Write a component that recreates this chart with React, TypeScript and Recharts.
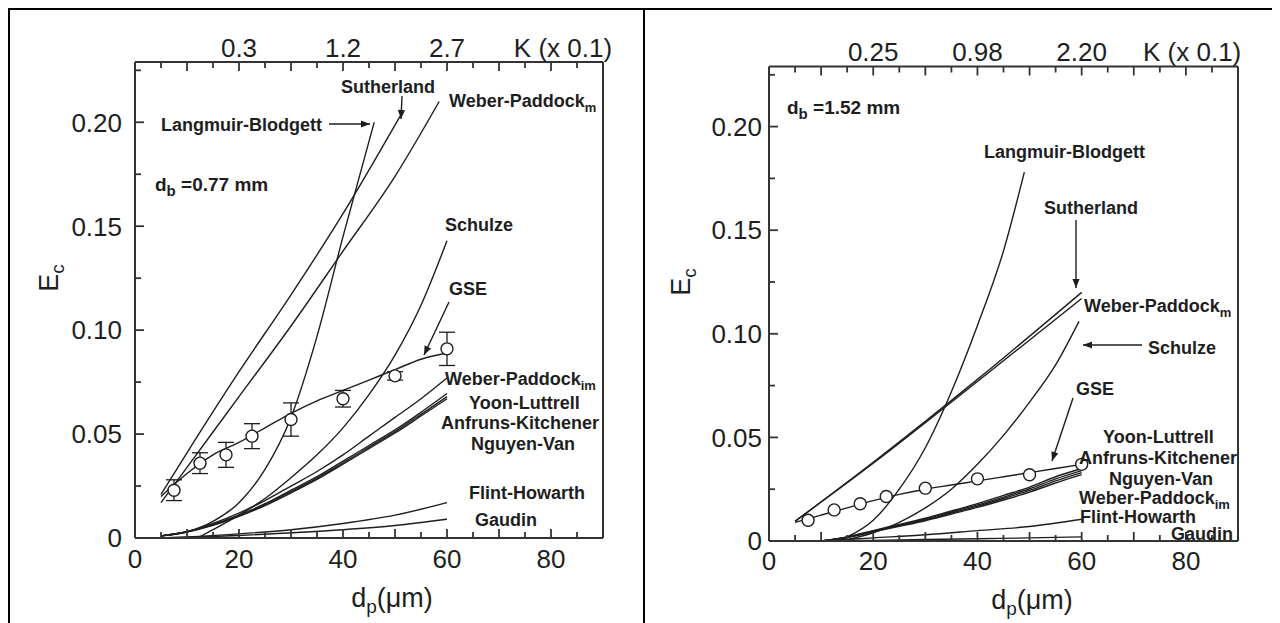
import React from "react";
import { ComposedChart, Line, Scatter, ErrorBar, XAxis, YAxis } from "recharts";

type Pt = [number, number];

// ---- d_b = 0.77 mm (left panel) ----
const langmuir077: Pt[] = [[5, 0.001], [10, 0.003], [15, 0.008], [20, 0.017], [25, 0.033], [30, 0.058], [35, 0.097], [40, 0.145], [46, 0.2]];
const sutherland077: Pt[] = [[5, 0.021], [10, 0.041], [20, 0.08], [30, 0.117], [40, 0.156], [51, 0.203]];
const weberPaddockM077: Pt[] = [[5, 0.017], [10, 0.034], [20, 0.068], [30, 0.102], [40, 0.138], [50, 0.174], [58.5, 0.21]];
const schulze077: Pt[] = [[12, 0], [15, 0.004], [20, 0.011], [25, 0.019], [30, 0.029], [35, 0.04], [40, 0.053], [45, 0.069], [50, 0.088], [55, 0.112], [60, 0.143]];
const gseLine077: Pt[] = [[5, 0.02], [10, 0.031], [15, 0.04], [20, 0.046], [25, 0.053], [30, 0.06], [35, 0.066], [40, 0.071], [45, 0.076], [50, 0.081], [55, 0.086], [60, 0.089]];
const weberPaddockIm077: Pt[] = [[5, 0.001], [10, 0.003], [15, 0.007], [20, 0.012], [25, 0.018], [30, 0.025], [35, 0.032], [40, 0.04], [45, 0.049], [50, 0.058], [55, 0.067], [60, 0.077]];
const yoonLuttrell077: Pt[] = [[5, 0.001], [10, 0.003], [15, 0.0065], [20, 0.011], [25, 0.0165], [30, 0.023], [35, 0.0295], [40, 0.037], [45, 0.0445], [50, 0.052], [55, 0.0605], [60, 0.0695]];
const anfruns077: Pt[] = [[5, 0.001], [10, 0.003], [15, 0.0063], [20, 0.0107], [25, 0.016], [30, 0.0223], [35, 0.0288], [40, 0.0362], [45, 0.0437], [50, 0.0512], [55, 0.0595], [60, 0.068]];
const nguyenVan077: Pt[] = [[5, 0.001], [10, 0.0029], [15, 0.0061], [20, 0.0104], [25, 0.0156], [30, 0.0217], [35, 0.0282], [40, 0.0355], [45, 0.043], [50, 0.0505], [55, 0.0587], [60, 0.067]];
const flintHowarth077: Pt[] = [[5, 0], [10, 0.0005], [20, 0.002], [30, 0.004], [40, 0.007], [50, 0.011], [60, 0.017]];
const gaudin077: Pt[] = [[5, 0], [10, 0.0003], [20, 0.0012], [30, 0.0025], [40, 0.004], [50, 0.006], [60, 0.009]];
const gseDp077 = [7.5, 12.5, 17.5, 22.5, 30, 40, 50, 60];
const gseEc077 = [0.023, 0.036, 0.04, 0.049, 0.057, 0.067, 0.078, 0.091];
const gseErr077 = [0.005, 0.005, 0.006, 0.006, 0.008, 0.004, 0.002, 0.008];
const kPos077 = [20, 40, 60, 82.3];
const kLabels077 = ["0.3", "1.2", "2.7", "K (x 0.1)"];

// ---- d_b = 1.52 mm (right panel) ----
const langmuir152: Pt[] = [[13, 0], [15, 0.002], [20, 0.01], [25, 0.025], [30, 0.045], [35, 0.072], [40, 0.104], [45, 0.14], [49, 0.178]];
const sutherland152: Pt[] = [[5, 0.0095], [20, 0.038], [40, 0.078], [60, 0.12]];
const weberPaddockM152: Pt[] = [[5, 0.0095], [20, 0.0375], [40, 0.077], [60, 0.117]];
const schulze152: Pt[] = [[14, 0], [20, 0.004], [25, 0.009], [30, 0.016], [35, 0.025], [40, 0.037], [45, 0.051], [50, 0.067], [55, 0.085], [59.5, 0.106]];
const gseLine152: Pt[] = [[5, 0.009], [10, 0.0125], [15, 0.016], [20, 0.0195], [25, 0.0225], [30, 0.025], [35, 0.027], [40, 0.029], [45, 0.031], [50, 0.033], [55, 0.035], [60, 0.037]];
const yoonLuttrell152: Pt[] = [[10, 0], [15, 0.002], [20, 0.005], [25, 0.008], [30, 0.011], [35, 0.0145], [40, 0.018], [45, 0.022], [50, 0.026], [55, 0.031], [60, 0.035]];
const anfruns152: Pt[] = [[10, 0], [15, 0.0019], [20, 0.0048], [25, 0.0077], [30, 0.0106], [35, 0.014], [40, 0.0174], [45, 0.0212], [50, 0.0252], [55, 0.03], [60, 0.034]];
const nguyenVan152: Pt[] = [[10, 0], [15, 0.0018], [20, 0.0046], [25, 0.0074], [30, 0.0102], [35, 0.0135], [40, 0.0168], [45, 0.0205], [50, 0.0244], [55, 0.029], [60, 0.033]];
const weberPaddockIm152: Pt[] = [[10, 0], [15, 0.0017], [20, 0.0044], [25, 0.0071], [30, 0.0098], [35, 0.013], [40, 0.0162], [45, 0.0198], [50, 0.0236], [55, 0.028], [60, 0.032]];
const flintHowarth152: Pt[] = [[10, 0], [20, 0.0015], [30, 0.003], [40, 0.005], [50, 0.007], [60, 0.0105]];
const gaudin152: Pt[] = [[10, 0], [20, 0.0003], [30, 0.0007], [40, 0.0011], [50, 0.0015], [60, 0.002]];
const gseDp152 = [7.5, 12.5, 17.5, 22.5, 30, 40, 50, 60];
const gseEc152 = [0.01, 0.015, 0.018, 0.0215, 0.0255, 0.03, 0.032, 0.037];
const kPos152 = [20, 40, 60, 81.2];
const kLabels152 = ["0.25", "0.98", "2.20", "K (x 0.1)"];

// ---- shared axis ticks ----
const dpLabels = [0, 20, 40, 60, 80];
const dpTicks = [5, 10, 15, 20, 25, 30, 35, 40, 45, 50, 55, 60, 65, 70, 75, 80, 85];
const ecLabels = [0, 0.05, 0.1, 0.15, 0.2];
const ecTicks = [0.025, 0.05, 0.075, 0.1, 0.125, 0.15, 0.175, 0.2, 0.225];
const DP_MAX = 90;
const EC_MAX = 0.229;

const INK = "#1e1e1e";
const AXIS = "#333333";
const FONT = "'Liberation Sans', Arial, Helvetica, sans-serif";

type Note = { text: string; sub?: string; x: number; y: number };
type Arrow = [number, number, number, number];

const toRows = (pts: Pt[]) => pts.map(([dp, ec]) => ({ dp, ec }));
const near = (a: number, list: number[]) => list.findIndex((v) => Math.abs(v - a) < 1e-6);

interface PanelProps {
  id: string;
  curves: Pt[][];
  dp: number[];
  ec: number[];
  err?: number[];
  kPos: number[];
  kLabels: string[];
  margin: { top: number; right: number; bottom: number; left: number };
  xLabelDy: number;
  yLabelGap: number;
  kGap: number;
  db: string;
  dbPos: [number, number];
  notes: Note[];
  arrows: Arrow[];
  ecPos: [number, number];
  dpPos: [number, number];
}

function Panel(p: PanelProps) {
  const W = 633;
  const H = 613;
  const Y_W = 60;
  const X_H = 40;
  const T_H = 30;
  const pts = p.dp.map((dp, i) => ({ dp, ec: p.ec[i], err: p.err ? p.err[i] : 0 }));
  const last = p.curves.length - 1;

  // plot box, used for the inward tick marks
  const L = p.margin.left + Y_W;
  const R = W - p.margin.right - 1;
  const T = p.margin.top + T_H;
  const B = H - p.margin.bottom - X_H;
  const px = (v: number) => L + (v / DP_MAX) * (R - L);
  const py = (v: number) => B - (v / EC_MAX) * (B - T);

  const bottomLabel = (t: any) => {
    const v = t.payload.value;
    return (
      <text x={t.x} y={t.y + p.xLabelDy} textAnchor="middle" fontSize={26} fill={INK} fontFamily={FONT}>
        {v}
      </text>
    );
  };

  const leftLabel = (t: any) => {
    const v = t.payload.value;
    return (
      <text x={t.x - p.yLabelGap} y={t.y + 9.3} textAnchor="end" fontSize={26} fill={INK} fontFamily={FONT}>
        {v === 0 ? "0" : v.toFixed(2)}
      </text>
    );
  };

  const kLabel = (t: any) => {
    const k = near(t.payload.value, p.kPos);
    return (
      <text x={t.x} y={t.y - p.kGap} textAnchor="middle" fontSize={26} fill={INK} fontFamily={FONT}>
        {k >= 0 ? p.kLabels[k] : ""}
      </text>
    );
  };

  return (
    <div style={{ position: "relative", width: W, height: H }}>
      <ComposedChart width={W} height={H} margin={p.margin}>
        <XAxis
          xAxisId="b"
          dataKey="dp"
          type="number"
          domain={[0, DP_MAX]}
          ticks={dpLabels}
          interval={0}
          height={X_H}
          tickSize={0}
          tickMargin={0}
          axisLine={{ stroke: AXIS, strokeWidth: 2 }}
          tickLine={false}
          tick={bottomLabel}
          allowDataOverflow
        />
        <XAxis
          xAxisId="t"
          dataKey="dp"
          orientation="top"
          type="number"
          domain={[0, DP_MAX]}
          ticks={p.kPos}
          interval={0}
          height={T_H}
          tickSize={0}
          tickMargin={0}
          axisLine={{ stroke: AXIS, strokeWidth: 2 }}
          tickLine={false}
          tick={kLabel}
          allowDataOverflow
        />
        <YAxis
          yAxisId="l"
          type="number"
          domain={[0, EC_MAX]}
          ticks={ecLabels}
          interval={0}
          width={Y_W}
          tickSize={0}
          tickMargin={0}
          axisLine={{ stroke: AXIS, strokeWidth: 2 }}
          tickLine={false}
          tick={leftLabel}
          allowDataOverflow
        />
        <YAxis
          yAxisId="r"
          orientation="right"
          type="number"
          domain={[0, EC_MAX]}
          width={1}
          axisLine={{ stroke: AXIS, strokeWidth: 2 }}
          tickLine={false}
          tick={false}
          allowDataOverflow
        />
        {p.curves.map((c, i) => (
          <Line
            key={`${p.id}-c${i}`}
            data={toRows(c)}
            dataKey="ec"
            xAxisId="b"
            yAxisId={i === last ? "r" : "l"}
            type="monotone"
            stroke={INK}
            strokeWidth={1.4}
            dot={false}
            activeDot={false}
            isAnimationActive={false}
          />
        ))}
        <Scatter
          data={pts}
          dataKey="ec"
          xAxisId="t"
          yAxisId="l"
          isAnimationActive={false}
          shape={(s: any) => (
            <circle cx={s.cx} cy={s.cy} r={6} fill="#fff" stroke={INK} strokeWidth={1.4} />
          )}
        >
          {p.err && <ErrorBar dataKey="err" direction="y" width={8} stroke={INK} strokeWidth={1.3} />}
        </Scatter>
      </ComposedChart>

      <svg width={W} height={H} style={{ position: "absolute", left: 0, top: 0, pointerEvents: "none" }}>
        <defs>
          <marker
            id={`ah-${p.id}`}
            viewBox="0 0 10 10"
            refX="10"
            refY="5"
            markerWidth="11"
            markerHeight="9"
            markerUnits="userSpaceOnUse"
            orient="auto"
          >
            <path d="M0,1 L10,5 L0,9 z" fill={INK} />
          </marker>
        </defs>
        {/* inward tick marks on bottom, top and left */}
        {dpTicks.map((v) => {
          const len = v % 10 === 0 ? 9 : 6;
          const x = px(v);
          return (
            <g key={`x${v}`} stroke={AXIS} strokeWidth={1.8}>
              <line x1={x} y1={B} x2={x} y2={B - len} />
              <line x1={x} y1={T} x2={x} y2={T + len} />
            </g>
          );
        })}
        {ecTicks.map((v) => {
          const len = near(v, ecLabels) >= 0 ? 9 : 6;
          const y = py(v);
          return <line key={`y${v}`} x1={L} y1={y} x2={L + len} y2={y} stroke={AXIS} strokeWidth={1.8} />;
        })}
        {p.arrows.map(([x1, y1, x2, y2], i) => (
          <line key={i} x1={x1} y1={y1} x2={x2} y2={y2} stroke={INK} strokeWidth={1.4} markerEnd={`url(#ah-${p.id})`} />
        ))}
        {p.notes.map((n, i) => (
          <text key={i} x={n.x} y={n.y + 6.5} fontSize={18} fontWeight={700} fill={INK} fontFamily={FONT}>
            {n.text}
            {n.sub && (
              <tspan dy={5} fontSize={13}>
                {n.sub}
              </tspan>
            )}
          </text>
        ))}
        <text x={p.dbPos[0]} y={p.dbPos[1] + 6.5} fontSize={19} fontWeight={700} fill={INK} fontFamily={FONT}>
          d
          <tspan dy={5} fontSize={15}>
            b
          </tspan>
          <tspan dy={-5}>{` =${p.db} mm`}</tspan>
        </text>
        <text
          x={p.ecPos[0]}
          y={p.ecPos[1] + 9}
          transform={`rotate(-90 ${p.ecPos[0]} ${p.ecPos[1]})`}
          textAnchor="middle"
          fontSize={27}
          fill={INK}
          fontFamily={FONT}
        >
          E
          <tspan dy={6} fontSize={19}>
            c
          </tspan>
        </text>
        <text x={p.dpPos[0]} y={p.dpPos[1] + 9} textAnchor="middle" fontSize={27} fill={INK} fontFamily={FONT}>
          d
          <tspan dy={6} fontSize={19}>
            p
          </tspan>
          <tspan dy={-6}>(μm)</tspan>
        </text>
      </svg>
    </div>
  );
}

export default function App() {
  return (
    <>
      <style>{"body{overflow:hidden}"}</style>
      <div
        style={{
          display: "flex",
          width: 1272,
          height: 615,
          boxSizing: "border-box",
          borderTop: "2px solid #000",
          borderLeft: "2px solid #000",
          borderRight: "2px solid #000",
          background: "#fff",
        }}
      >
        <div style={{ borderRight: "2px solid #000" }}>
          <Panel
            id="a"
            curves={[
              langmuir077,
              sutherland077,
              weberPaddockM077,
              schulze077,
              gseLine077,
              weberPaddockIm077,
              yoonLuttrell077,
              anfruns077,
              nguyenVan077,
              flintHowarth077,
              gaudin077,
            ]}
            dp={gseDp077}
            ec={gseEc077}
            err={gseErr077}
            kPos={kPos077}
            kLabels={kLabels077}
            margin={{ top: 22, right: 39, bottom: 45, left: 65 }}
            xLabelDy={30}
            yLabelGap={13}
            kGap={5}
            db="0.77"
            dbPos={[145, 174]}
            notes={[
              { text: "Sutherland", x: 331, y: 76 },
              { text: "Weber-Paddock", sub: "m", x: 439, y: 90 },
              { text: "Langmuir-Blodgett", x: 151, y: 114 },
              { text: "Schulze", x: 435, y: 214 },
              { text: "GSE", x: 439, y: 278 },
              { text: "Weber-Paddock", sub: "im", x: 435, y: 368 },
              { text: "Yoon-Luttrell", x: 459, y: 392 },
              { text: "Anfruns-Kitchener", x: 431, y: 412 },
              { text: "Nguyen-Van", x: 461, y: 433 },
              { text: "Flint-Howarth", x: 459, y: 482 },
              { text: "Gaudin", x: 465, y: 509 },
            ]}
            arrows={[
              [319, 114, 360, 114],
              [392, 86, 391, 109],
              [439, 292, 414, 345],
            ]}
            ecPos={[39, 268]}
            dpPos={[382, 588]}
          />
        </div>
        <div>
          <Panel
            id="b"
            curves={[
              langmuir152,
              sutherland152,
              weberPaddockM152,
              schulze152,
              gseLine152,
              yoonLuttrell152,
              anfruns152,
              nguyenVan152,
              weberPaddockIm152,
              flintHowarth152,
              gaudin152,
            ]}
            dp={gseDp152}
            ec={gseEc152}
            kPos={kPos152}
            kLabels={kLabels152}
            margin={{ top: 26.5, right: 39, bottom: 42, left: 64 }}
            xLabelDy={29}
            yLabelGap={7}
            kGap={6}
            db="1.52"
            dbPos={[142, 97]}
            notes={[
              { text: "Langmuir-Blodgett", x: 339, y: 141 },
              { text: "Sutherland", x: 399, y: 197 },
              { text: "Weber-Paddock", sub: "m", x: 439, y: 295 },
              { text: "Schulze", x: 503, y: 337 },
              { text: "GSE", x: 431, y: 378 },
              { text: "Yoon-Luttrell", x: 458, y: 426 },
              { text: "Anfruns-Kitchener", x: 434, y: 447 },
              { text: "Nguyen-Van", x: 464, y: 468 },
              { text: "Weber-Paddock", sub: "im", x: 434, y: 487 },
              { text: "Flint-Howarth", x: 435, y: 506 },
              { text: "Gaudin", x: 526, y: 523 },
            ]}
            arrows={[
              [431, 210, 431, 278],
              [497, 335, 438, 335],
              [428, 388, 407, 451],
            ]}
            ecPos={[36, 272]}
            dpPos={[387, 590]}
          />
        </div>
      </div>
    </>
  );
}
